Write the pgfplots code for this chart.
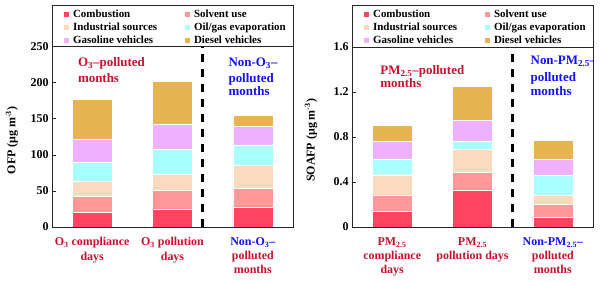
\documentclass[border=0pt]{standalone}
\usepackage{fontspec}
\setmainfont{Liberation Serif}
\usepackage{pgfplots}
\pgfplotsset{compat=1.18}
\definecolor{cComb}{HTML}{FF4560}
\definecolor{cSolv}{HTML}{FF9999}
\definecolor{cInd}{HTML}{FCDABE}
\definecolor{cOil}{HTML}{AAFFFF}
\definecolor{cGas}{HTML}{EEB0FF}
\definecolor{cDie}{HTML}{E8B452}
\definecolor{cRed}{HTML}{C8102E}
\definecolor{cBlue}{HTML}{1010FF}
\pgfplotsset{
  panel/.style={
    scale only axis, width=241bp, height=222bp,
    xmin=-0.5, xmax=2.5, ymin=0,
    ybar stacked, bar width=0.5,
    xtick={0,1,2},
    major x tick style={draw=none},
    ytick pos=left, tick align=inside, major tick length=4bp,
    axis line style={line width=0.8bp, black!85},
    every tick/.style={black!85, line width=0.8bp},
    tick label style={font=\fontsize{12}{14.3}\selectfont\bfseries},
    /pgf/number format/assume math mode=true,
    xticklabel style={align=center, text=cRed, anchor=north, yshift=-7bp},
    label style={font=\fontsize{12}{14}\selectfont\bfseries},
    every axis plot/.append style={draw=white, line width=0.3bp},
    legend image code/.code={\fill[##1] (0bp,-3bp) rectangle (6bp,3bp);},
    legend columns=2,
    legend cell align=left,
    legend style={at={(axis description cs:0.046,0.985)}, anchor=north west,
      draw=none, fill=none, inner sep=0pt, row sep=1bp,
      font=\fontsize{11}{13}\selectfont\bfseries,
      nodes={inner sep=0pt, text height=9bp, text depth=3bp},
      /tikz/every odd column/.append style={column sep=3.5bp},
      /tikz/every even column/.append style={column sep=27bp}},
  }
}
\newcommand{\ann}{\fontsize{13}{15}\selectfont\bfseries}
\begin{document}
\begin{tikzpicture}
\begin{axis}[panel, at={(52bp,56bp)}, anchor=south west,
  ymax=308, ytick={0,50,100,150,200,250},
  ylabel={OFP (μg m\textsuperscript{-3})},
  ylabel style={at={(axis description cs:-0.166,0.39)}, anchor=center},
  xticklabels={{O\textsubscript{3} compliance\\days},{O\textsubscript{3} pollution\\days},{\color{cBlue}Non-O\textsubscript{3}--\\polluted\\months}}]
\addplot[fill=cComb] coordinates {(0,20) (1,25) (2,28)};
\addplot[fill=cSolv] coordinates {(0,22.5) (1,26) (2,26)};
\addplot[fill=cInd] coordinates {(0,21) (1,22) (2,32)};
\addplot[fill=cOil] coordinates {(0,26) (1,35) (2,28)};
\addplot[fill=cGas] coordinates {(0,32.5) (1,35) (2,26)};
\addplot[fill=cDie] coordinates {(0,55.5) (1,59) (2,15)};
\legend{Combustion,Solvent use,Industrial sources,Oil/gas evaporation,Gasoline vehicles,Diesel vehicles}
\draw[line width=0.8bp, black!85] (axis cs:-0.5,250) -- (axis cs:2.5,250);
\draw[line width=2.5bp, dash pattern=on 8bp off 7bp] (axis cs:1.375,0) -- (axis cs:1.375,250);
\node[anchor=base west, text=cRed, font=\ann] at (axis cs:-0.22,222) {O\textsubscript{3}--polluted};
\node[anchor=base west, text=cRed, font=\ann] at (axis cs:-0.22,201) {months};
\node[anchor=base west, text=cBlue, font=\ann] at (axis cs:1.654,222) {Non-O\textsubscript{3}--};
\node[anchor=base west, text=cBlue, font=\ann] at (axis cs:1.654,201) {polluted};
\node[anchor=base west, text=cBlue, font=\ann] at (axis cs:1.654,183) {months};
\end{axis}
\begin{axis}[panel, at={(352bp,56bp)}, anchor=south west,
  ymax=1.973, ytick={0,0.4,0.8,1.2,1.6}, yticklabels={0,0.4,0.8,1.2,1.6},
  ylabel={SOAFP (μg m\textsuperscript{-3})},
  ylabel style={at={(axis description cs:-0.17,0.39)}, anchor=center},
  xticklabels={{PM\textsubscript{2.5}\\compliance\\days},{PM\textsubscript{2.5}\\pollution days},{\color{cBlue}Non-PM\textsubscript{2.5}--\\polluted\\months}}]
\addplot[fill=cComb] coordinates {(0,0.145) (1,0.33) (2,0.085)};
\addplot[fill=cSolv] coordinates {(0,0.14) (1,0.155) (2,0.12)};
\addplot[fill=cInd] coordinates {(0,0.18) (1,0.205) (2,0.075)};
\addplot[fill=cOil] coordinates {(0,0.14) (1,0.075) (2,0.18)};
\addplot[fill=cGas] coordinates {(0,0.155) (1,0.185) (2,0.14)};
\addplot[fill=cDie] coordinates {(0,0.145) (1,0.30) (2,0.17)};
\legend{Combustion,Solvent use,Industrial sources,Oil/gas evaporation,Gasoline vehicles,Diesel vehicles}
\draw[line width=0.8bp, black!85] (axis cs:-0.5,1.6) -- (axis cs:2.5,1.6);
\draw[line width=2.5bp, dash pattern=on 8bp off 7bp] (axis cs:1.5,0) -- (axis cs:1.5,1.6);
\node[anchor=base west, text=cRed, font=\ann] at (axis cs:-0.19,1.351) {PM\textsubscript{2.5}--polluted};
\node[anchor=base west, text=cRed, font=\ann] at (axis cs:-0.19,1.236) {months};
\node[anchor=base west, text=cBlue, font=\ann] at (axis cs:1.68,1.44) {Non-PM\textsubscript{2.5}--};
\node[anchor=base west, text=cBlue, font=\ann] at (axis cs:1.68,1.289) {polluted};
\node[anchor=base west, text=cBlue, font=\ann] at (axis cs:1.68,1.173) {months};
\end{axis}
\pgfresetboundingbox
\useasboundingbox (0,0) rectangle (600bp,283bp);
\end{tikzpicture}
\end{document}
